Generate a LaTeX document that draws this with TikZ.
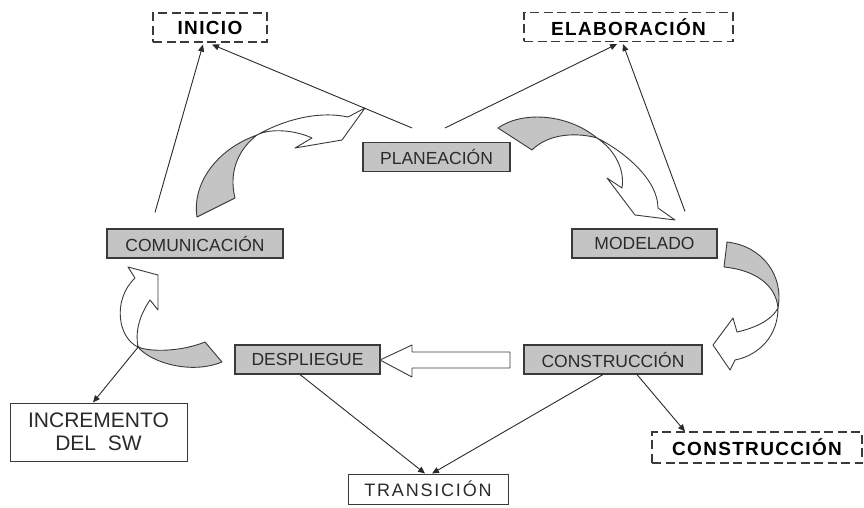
\documentclass[tikz,border=0pt]{standalone}
\usepackage{fontspec}
\setmainfont{Liberation Sans}
\usetikzlibrary{arrows.meta}
\definecolor{boxgray}{HTML}{C4C4C4}
\definecolor{edge}{HTML}{3A3A3A}
\definecolor{ink}{HTML}{2A2A2A}

\begin{document}
\begin{tikzpicture}[x=1pt,y=-1pt,
  phase/.style={draw=edge, line width=1.1pt, fill=boxgray, inner sep=0pt,
    minimum height=29pt, text=ink, font=\fontsize{17.5}{20}\selectfont},
  stage/.style={draw=edge, line width=1.1pt, dash pattern=on 9pt off 4.5pt,
    inner sep=0pt, minimum height=29pt, text=black,
    font=\fontsize{19}{22}\selectfont\bfseries\addfontfeature{LetterSpace=7}},
  result/.style={draw=edge, line width=1pt, fill=white, inner sep=0pt, text=ink},
  link/.style={draw=ink, line width=0.9pt, -{Triangle[length=7pt,width=6pt]}},
  ribbon/.style={draw=edge, line width=0.9pt, line join=round},
]
\useasboundingbox (0,0) rectangle (864,508);

% milestones (dashed)
\node[stage, minimum width=114pt] (inicio) at (210,27.5) {INICIO};
\node[stage, minimum width=209pt] (elab) at (628.5,27) {ELABORACIÓN};
\node[stage, minimum width=210pt, minimum height=31pt] (consd) at (757,447.5) {CONSTRUCCIÓN};

% activities (grey)
\node[phase, minimum width=147pt] (plan) at (436.5,157) {PLANEACIÓN};
\node[phase, minimum width=176pt] (com) at (195,243.5) {COMUNICACIÓN};
\node[phase, minimum width=145pt] (mod) at (644.5,243.5) {MODELADO};
\node[phase, minimum width=178pt] (cons) at (613,359.5) {CONSTRUCCIÓN};
\node[phase, minimum width=145pt] (desp) at (307.5,359.5) {DESPLIEGUE};

% results (white)
\node[result, minimum width=160pt, minimum height=30pt,
  font=\fontsize{18}{21}\selectfont\addfontfeature{LetterSpace=10}] (trans) at (428,489) {TRANSICIÓN};
\node[result, minimum width=177pt, minimum height=58pt, align=center,
  font=\fontsize{21}{23}\selectfont] (inc) at (98.5,432) {INCREMENTO\\DEL\ \ SW};

% curved block arrows: grey back of the ribbon, white front with head
% comunicacion -> planeacion
\filldraw[ribbon, fill=boxgray] (197,217) .. controls (192,185) and (215,150) .. (257,135)
  .. controls (240,148) and (228,170) .. (235,198) -- cycle;
\filldraw[ribbon, fill=white] (257,135) .. controls (280,122) and (315,110) .. (348,117)
  -- (365,108) -- (342,140) -- (295,148) -- (312,138)
  .. controls (295,130) and (270,128) .. (257,135) -- cycle;
% planeacion -> modelado
\filldraw[ribbon, fill=boxgray] (498,128) .. controls (520,112) and (565,112) .. (597,138)
  .. controls (580,133) and (550,132) .. (532,150) -- cycle;
\filldraw[ribbon, fill=white] (597,138) .. controls (625,152) and (658,180) .. (658,208)
  -- (675,220) -- (635,215) -- (607,178) -- (622,188)
  .. controls (625,170) and (615,150) .. (597,138) -- cycle;
% modelado -> construccion
\filldraw[ribbon, fill=boxgray] (727,242) .. controls (762,246) and (784,275) .. (778,308)
  .. controls (776,285) and (755,270) .. (724,267) -- cycle;
\filldraw[ribbon, fill=white] (778,308) .. controls (778,335) and (760,355) .. (735,360)
  -- (730,370) -- (713,345) -- (733,318) -- (737,332)
  .. controls (755,328) and (772,320) .. (778,308) -- cycle;
% despliegue -> comunicacion
\filldraw[ribbon, fill=boxgray] (205,342) .. controls (180,352) and (150,352) .. (138,347)
  .. controls (150,362) and (190,375) .. (222,362) -- cycle;
\filldraw[ribbon, fill=white] (138,347) .. controls (118,338) and (112,300) .. (135,278)
  -- (128,267) -- (158,275) -- (158,310) -- (150,300)
  .. controls (140,315) and (135,330) .. (138,347) -- cycle;
% construccion -> despliegue (straight)
\filldraw[ribbon, fill=white] (510,352) -- (412,352) -- (412,345) -- (380,360)
  -- (412,377) -- (412,368) -- (510,368) -- cycle;

\coordinate (twistD) at (139,346);

% connectors
\draw[link] ([shift={(-40,-16)}]com.north) -- ([shift={(-7,2)}]inicio.south);
\draw[link] ([shift={(-24.5,-14)}]plan.north) -- ([shift={(2,2)}]inicio.south);
\draw[link] ([shift={(8.5,-14)}]plan.north) -- ([shift={(-11.5,2)}]elab.south);
\draw[link] ([shift={(40.5,-17)}]mod.north) -- ([shift={(-5.5,2)}]elab.south);
\draw[link] ([xshift=24pt]cons.south) -- ([xshift=-72pt]consd.north);
\draw[link] ([xshift=-10pt]cons.south) -- ([xshift=4pt]trans.north);
\draw[link] ([xshift=-7.5pt]desp.south) -- ([xshift=-3pt]trans.north);
\draw[link] (twistD) -- ([xshift=-5.5pt]inc.north);
\end{tikzpicture}
\end{document}
